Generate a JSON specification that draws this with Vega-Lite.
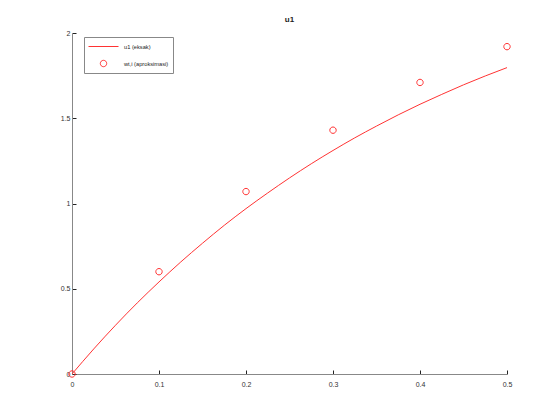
{
  "$schema": "https://vega.github.io/schema/vega-lite/v6.json",
  "autosize": {"type": "none"},
  "width": 435,
  "height": 341,
  "padding": {"left": 72, "top": 33, "right": 53, "bottom": 46},
  "background": "white",
  "title": {"text": "u1", "fontSize": 8, "font": "Liberation Sans", "fontWeight": "bold", "color": "#222", "offset": 5},
  "config": {
    "view": {"stroke": null},
    "axis": {"grid": false, "domainColor": "#888", "tickColor": "#222", "labelFont": "Liberation Sans", "labelFontSize": 7, "labelColor": "#333", "title": null}
  },
  "datasets": {
    "exact": [
      {"x": 0, "y": 0, "series": "u1 (eksak)"},
      {"x": 0.025, "y": 0.147, "series": "u1 (eksak)"},
      {"x": 0.05, "y": 0.286, "series": "u1 (eksak)"},
      {"x": 0.075, "y": 0.417, "series": "u1 (eksak)"},
      {"x": 0.1, "y": 0.540, "series": "u1 (eksak)"},
      {"x": 0.125, "y": 0.657, "series": "u1 (eksak)"},
      {"x": 0.15, "y": 0.767, "series": "u1 (eksak)"},
      {"x": 0.175, "y": 0.872, "series": "u1 (eksak)"},
      {"x": 0.2, "y": 0.970, "series": "u1 (eksak)"},
      {"x": 0.225, "y": 1.062, "series": "u1 (eksak)"},
      {"x": 0.25, "y": 1.150, "series": "u1 (eksak)"},
      {"x": 0.275, "y": 1.233, "series": "u1 (eksak)"},
      {"x": 0.3, "y": 1.311, "series": "u1 (eksak)"},
      {"x": 0.325, "y": 1.385, "series": "u1 (eksak)"},
      {"x": 0.35, "y": 1.454, "series": "u1 (eksak)"},
      {"x": 0.375, "y": 1.520, "series": "u1 (eksak)"},
      {"x": 0.4, "y": 1.582, "series": "u1 (eksak)"},
      {"x": 0.425, "y": 1.640, "series": "u1 (eksak)"},
      {"x": 0.45, "y": 1.696, "series": "u1 (eksak)"},
      {"x": 0.475, "y": 1.748, "series": "u1 (eksak)"},
      {"x": 0.5, "y": 1.797, "series": "u1 (eksak)"}
    ],
    "approx": [
      {"x": 0, "y": 0, "series": "wt,i (aproksimasi)"},
      {"x": 0.1, "y": 0.60, "series": "wt,i (aproksimasi)"},
      {"x": 0.2, "y": 1.07, "series": "wt,i (aproksimasi)"},
      {"x": 0.3, "y": 1.43, "series": "wt,i (aproksimasi)"},
      {"x": 0.4, "y": 1.71, "series": "wt,i (aproksimasi)"},
      {"x": 0.5, "y": 1.92, "series": "wt,i (aproksimasi)"}
    ]
  },
  "encoding": {
    "x": {"field": "x", "type": "quantitative", "scale": {"domain": [0, 0.5], "nice": false, "zero": false},
          "axis": {"values": [0, 0.1, 0.2, 0.3, 0.4, 0.5], "tickSize": -4, "labelPadding": 10, "format": "~g", "labelFlush": false}},
    "y": {"field": "y", "type": "quantitative", "scale": {"domain": [0, 2], "nice": false},
          "axis": {"values": [0, 0.5, 1, 1.5, 2], "tickSize": -4, "labelPadding": 6, "format": "~g", "labelFlush": false}},
    "color": {"field": "series", "type": "nominal",
              "scale": {"domain": ["u1 (eksak)", "wt,i (aproksimasi)"], "range": ["#ff3333", "#ff3333"]},
              "legend": {"title": null, "orient": "none", "legendX": 12, "legendY": 4, "symbolSize": 100,
                         "labelFont": "Liberation Sans", "labelFontSize": 5.7, "labelColor": "#222",
                         "strokeColor": "#888", "padding": 4, "rowPadding": 8, "symbolStrokeWidth": 1,
                         "symbolOffset": 10, "symbolFillColor": "transparent", "labelOffset": 15}}
  },
  "layer": [
    {
      "data": {"name": "exact"},
      "mark": {"type": "line", "strokeWidth": 1, "interpolate": "monotone"}
    },
    {
      "data": {"name": "approx"},
      "mark": {"type": "point", "filled": false, "size": 100, "strokeWidth": 1, "opacity": 1},
      "encoding": {
        "shape": {"field": "series", "type": "nominal",
                  "scale": {"domain": ["u1 (eksak)", "wt,i (aproksimasi)"],
                            "range": ["M-3,0H3", "M0.64,0A0.64,0.64 0 1,1 -0.64,0A0.64,0.64 0 1,1 0.64,0Z"]},
                  "legend": {"title": null}}
      }
    }
  ]
}
